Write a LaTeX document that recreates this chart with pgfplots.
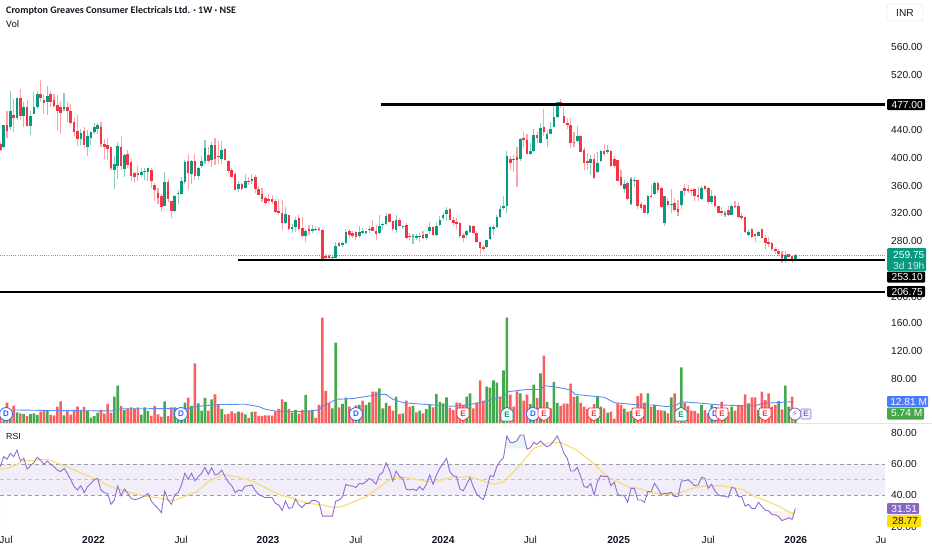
\documentclass[border=0pt]{standalone}
\usepackage{pgfplots}
\usepackage{pgfplotstable}
\usepackage{fontspec}
\pgfplotsset{compat=1.18}
\setmainfont{Liberation Sans}
\newfontfamily\titlefont{Carlito}
\newfontfamily\symfont{DejaVu Sans}
\definecolor{gbody}{HTML}{089981}
\definecolor{rbody}{HTML}{F23645}
\definecolor{gwick}{HTML}{8CCFC1}
\definecolor{rwick}{HTML}{F8A5AC}
\definecolor{gvol}{HTML}{45A84C}
\definecolor{rvol}{HTML}{F95F5F}
\definecolor{bma}{HTML}{5B8DEF}
\definecolor{blueD}{HTML}{2962FF}
\definecolor{rsi}{HTML}{8E6FCF}
\definecolor{rsiband}{HTML}{F1EDF9}
\definecolor{yma}{HTML}{FBDA6E}
\definecolor{tk}{HTML}{131722}
\definecolor{dashc}{HTML}{9A9BA3}
\pgfplotstableread{
o h l c v g r
420 423 410 411 26.3 0 58.3
415 448 414 447 21 1 64.7
447 468 428 439 46.3 0 63
444 497 440 468 26.3 1 66.8
462 485 438 458 42 0 64.7
458 488 455 487 32.5 1 68.9
487 499 455 461 31 0 61.9
461 481 444 474 30 1 63.6
474 484 444 446 27 0 56.8
446 467 433 460 30 1 58.9
464 495 463 473 31 1 61
473 496 471 492 28.7 1 64.2
492 512 481 486 33.4 0 62.5
483 491 464 479 34.8 0 59.8
481 504 462 489 35.8 1 61.9
492 496 473 480 28.7 0 59.8
483 492 474 475 28.2 0 58.3
476 491 439 468 40.6 0 56.1
474 481 435 465 48.2 0 55.1
470 493 467 474 28.2 1 57.2
474 480 452 467 35.8 0 54
467 478 448 451 29.1 0 49.8
452 457 431 438 35.8 0 45.5
439 462 417 427 40.6 0 43.4
427 441 418 436 35.8 1 46.1
439 444 414 419 40.1 0 41.7
415 440 403 432 34.8 1 45.5
428 439 418 438 24.8 1 47.6
437 450 435 445 27.2 1 49.8
442 451 435 447 32 1 50.8
444 452 415 420 35.8 0 43.4
420 427 398 415 30.6 0 41.7
418 428 397 413 44.4 0 41
415 415 382 385 32 0 34.2
382 402 355 391 54.8 1 37
389 423 370 417 70.5 1 45.9
415 432 383 389 41.5 0 39.7
384 406 373 404 35.8 1 44
406 412 385 390 37.7 0 41.2
394 398 367 374 39.6 0 38
378 380 364 373 37.7 0 37.2
378 388 366 375 39.6 0 37.6
375 385 372 379 29.1 1 38.5
379 386 368 381 39.6 1 39.5
379 386 366 385 34.4 1 41.2
382 385 356 366 27.2 0 36.3
361 364 338 353 41.5 0 33.8
349 356 334 342 29.6 0 31.6
345 348 324 329 26.3 0 28.9
331 379 330 365 48.2 1 42.7
365 370 337 341 27.2 0 37
338 338 313 324 39.6 0 34.2
324 346 322 345 39.6 1 40.2
348 353 334 350 26 1 41.7
348 373 346 367 24 1 46.6
365 397 363 394 46.3 1 54
395 406 354 378 53.4 0 50.2
377 397 363 395 41.5 1 54
396 406 368 374 102.4 0 49.3
374 387 368 386 45.3 1 51.9
388 403 386 396 34.8 1 54
396 426 391 414 53 1 57.8
404 415 393 395 34.8 0 53.4
397 423 387 418 51 1 57.6
418 428 390 399 58.2 0 53
403 425 391 402 43 0 53.6
399 425 391 411 37.2 1 56.1
413 414 396 397 29.6 0 51.9
396 397 378 381 30 0 48.3
382 385 372 373 33.9 0 46.1
377 380 353 354 31 0 41.7
355 366 351 362 33.4 1 43.4
363 364 353 355 32.5 0 42.7
356 377 356 367 29.6 1 45.9
367 372 361 365 24.4 0 46.1
366 377 363 369 33 1 46.6
372 375 349 355 33.4 0 42.9
355 359 346 347 27.2 0 40.6
348 357 337 341 27.2 0 39.5
342 345 334 335 28.2 0 38.5
340 348 335 338 28.2 0 38.7
340 346 334 337 27.7 0 38.5
338 340 320 322 33.9 0 34.8
323 341 318 320 37.2 0 33.8
321 339 296 306 51 0 30.2
306 329 305 319 47.2 1 36.3
317 318 296 298 37.2 0 31.6
298 304 292 300 32 1 32.1
300 315 293 311 35.8 1 37.6
313 318 295 297 30.6 0 33.8
299 314 285 287 35.8 0 32.1
287 298 279 294 57.2 1 34.8
298 303 289 294 34.8 0 34.8
294 303 291 298 35.8 1 36.8
297 302 294 296 24.4 0 36.6
297 300 294 296 43 0 35.5
296 297 252 253 167.6 0 26.7
258 262 253 256 63 0 26.7
258 262 254 256 46 0 26.7
255 258 252 257 38 1 26.7
256 279 255 273 132 1 36.3
277 279 272 273 39.6 0 37
275 279 272 277 44.4 1 39.1
277 297 276 293 53.4 1 47
295 298 284 289 40.6 0 46.1
291 294 284 287 36.8 0 45.9
293 294 281 286 42.5 0 44.9
287 302 285 293 43 1 47.6
292 299 290 295 49 0 47.2
291 295 290 295 43 1 48.7
296 302 291 298 46.7 1 50.8
300 310 294 295 62 0 49.3
295 303 282 290 62 0 47.2
291 318 290 302 66.7 1 53
303 308 296 304 38 1 54.7
305 320 303 316 46 1 60.8
319 320 307 308 41.5 0 56.1
309 309 294 297 34.8 0 49.1
296 318 292 310 55 1 55.5
311 313 301 301 30 0 51.9
300 303 297 302 31 1 50.8
303 306 283 285 49 0 43.8
287 291 281 286 40.6 0 43.4
286 290 276 288 41.5 1 44
285 290 281 288 32.5 0 42.9
286 291 279 288 34.8 1 45.5
289 294 283 284 31 0 43.4
284 292 282 290 36.8 1 47
294 307 290 300 43 1 53
300 302 287 289 39.6 0 47
289 308 287 302 58.6 1 53
303 316 301 311 47.2 1 57.2
313 322 311 317 45.3 1 60.4
319 329 309 325 53.9 1 63.6
326 328 310 311 39 0 55.1
311 315 301 306 35.8 0 52.5
307 313 298 305 46.3 0 51.9
306 307 285 287 46.3 0 44
289 291 278 285 43 0 42.9
289 296 284 295 55 1 47
293 303 291 302 59.6 1 51.2
302 303 290 291 38 0 45.5
292 294 277 278 46.3 0 40.8
278 279 262 270 78.2 0 38.7
272 274 265 268 49 0 37.2
272 282 270 281 69 1 44
283 302 281 300 67.7 1 52.5
298 303 289 300 78.2 1 51.9
300 318 299 314 74.8 1 58.3
314 332 313 326 55 0 61.9
327 345 325 330 92.4 1 64
331 410 321 403 167.6 1 77.9
399 403 383 393 57.7 0 73.8
398 404 380 397 40.6 0 73.8
401 416 358 397 62.5 0 74.9
398 428 396 427 59.6 1 78.5
428 437 416 426 49 0 78.5
426 435 405 406 57.7 0 69.4
406 421 404 410 44 1 70.4
410 441 409 433 72 1 73.8
433 438 422 428 53 0 72.5
422 451 421 443 88 1 74.7
444 471 431 438 113.4 0 72.5
427 440 415 435 47 1 71
435 452 434 441 38 0 72.1
445 479 444 459 75.8 1 74.9
459 481 457 480 46 1 77.9
480 485 472 476 41.5 0 73.2
460 473 450 451 45 0 66.8
451 457 441 447 45 0 63.6
448 457 414 422 73.4 0 55.5
423 438 416 422 55 0 55.5
424 446 423 431 55.8 1 57.8
432 433 408 409 46 0 51.9
412 415 383 393 40.6 0 45.5
396 407 383 393 36.8 0 45
393 404 375 398 36.8 0 47.6
398 406 370 371 44 0 40.2
379 409 378 393 55.8 1 48.7
396 411 394 410 40.6 1 52.5
410 420 402 406 38 0 51.9
408 418 406 411 32 1 52.3
410 412 387 388 33.4 0 46.1
398 403 386 388 23.4 0 48.3
397 397 366 367 45.3 0 40.8
372 382 359 361 43 0 39.7
355 368 349 363 37.7 1 39.7
364 366 339 341 33.4 0 35.5
333 373 332 370 34.3 1 44.4
366 373 358 368 38 1 44.4
368 368 326 331 55.7 0 37
333 337 325 327 59.5 0 37
332 333 320 321 46.2 0 35.5
321 346 317 345 59.5 1 42.3
345 361 342 343 40.5 0 42.3
348 366 346 364 42.9 1 47.6
364 367 350 354 35.7 0 44.4
357 358 327 329 35.2 0 40.6
306 345 302 345 34.3 1 41.2
338 342 331 332 31 0 41.2
332 355 320 334 53.8 1 41.9
335 342 322 325 59.5 0 39.1
326 339 316 322 38 0 39.1
332 354 326 352 96.6 1 49.1
356 363 345 352 46.2 0 49.3
355 361 349 352 41.4 0 49.8
354 356 346 352 34.8 0 48.3
355 357 338 345 34.3 0 46.1
347 358 338 344 31 0 46.6
341 359 339 357 42.9 1 51.5
360 361 354 355 35.7 0 50.8
357 358 334 336 31 0 44.4
336 354 334 345 42.9 1 47
345 346 329 330 35.7 0 42.9
330 331 320 321 38 0 40.2
324 329 316 320 47.6 0 39.5
318 323 315 320 38 1 39.5
325 331 316 317 33.3 0 38.7
318 332 317 331 40.5 1 45
331 338 327 329 34.8 0 44.4
330 337 313 314 42.9 0 39.1
316 320 311 313 41.4 0 39.1
314 315 292 293 58.1 0 33.1
289 298 287 293 45.2 1 34.2
298 299 285 286 53.8 0 31.6
290 291 279 287 53.8 0 31.6
288 294 287 293 35.7 1 35.5
297 298 283 284 61.9 0 32.7
285 289 269 277 50 0 30.6
278 286 272 276 59.5 0 30
277 278 266 268 40.5 0 27.8
269 272 262 265 42.9 0 27.4
266 268 258 261 48.6 1 26.3
261 265 249 255 36.7 0 23.8
252 265 249 260 70.5 1 24.6
261 262 256 257 40.5 1 25.7
258 260 249 253 54.8 0 24.6
253 261 252 260 31 1 31.6
}\datatable
\newcommand{\wick}[2]{\addplot[draw=none,mark=none,forget plot,error bars/.cd,y dir=plus,y explicit,error mark=none,error bar style={draw=#2,line width=1.1pt}] table[x expr=\coordindex,y expr={#1 ? \thisrow{l} : nan},y error plus expr={\thisrow{h}-\thisrow{l}}] {\datatable};}
\newcommand{\body}[2]{\addplot[draw=none,mark=none,forget plot,error bars/.cd,y dir=plus,y explicit,error mark=none,error bar style={draw=#2,line width=2.6pt}] table[x expr=\coordindex,y expr={#1 ? min(\thisrow{o},\thisrow{c}) : nan},y error plus expr={abs(\thisrow{c}-\thisrow{o})}] {\datatable};}
\newcommand{\evD}[1]{\node[circle,draw=blueD,fill=white,line width=0.8pt,minimum size=13pt,inner sep=0pt,text=blueD,font=\fontsize{8}{8}\selectfont\bfseries] at (#1pt,-414pt) {D};}
\newcommand{\evE}[2]{\begin{scope}[shift={(#1pt,-414pt)}]\draw[draw=#2,fill=white,line width=0.8pt,rounded corners=1pt] (-6pt,6pt)--(6pt,6pt)--(6pt,-3pt)--(0pt,-7pt)--(-6pt,-3pt)--cycle;\node[text=#2,inner sep=0pt,font=\fontsize{8}{8}\selectfont\bfseries] at (0pt,0.5pt) {E};\end{scope}}
\newcommand{\evU}[2]{\begin{scope}[shift={(#1pt,-414pt)}]\draw[draw=#2,fill=white,line width=0.8pt,rounded corners=1pt] (-6pt,-7pt)--(6pt,-7pt)--(6pt,3pt)--(0pt,7pt)--(-6pt,3pt)--cycle;\node[text=#2,inner sep=0pt,font=\fontsize{8}{8}\selectfont\bfseries] at (0pt,-0.5pt) {E};\end{scope}}
\newcommand{\pricebox}[6]{\node[anchor=west,fill=#5,text=#6,minimum width=#2,minimum height=#3,inner sep=0pt,rounded corners=1pt,font=\fontsize{10.2}{12}\selectfont] at (887pt,-#1pt) {\hspace{2pt}#4};}
\pgfplotsset{base/.style={scale only axis,width=885pt,xmin=-0.09,xmax=263.7,axis line style={draw=none},tick style={draw=none},major tick length=0pt,yticklabel pos=right,xtick=\empty,
 tick label style={font=\fontsize{10.2}{12}\selectfont,text=tk},yticklabel style={anchor=west,inner sep=0pt,xshift=6pt},clip=true}}
\begin{document}
\begin{tikzpicture}
\useasboundingbox (0pt,0pt) rectangle (932pt,-550pt);
% price pane
\begin{axis}[base,anchor=north west,at={(0pt,0pt)},height=310pt,ymin=180.5,ymax=627.8,
 ytick={200,280,320,360,400,440,520,560},yticklabels={200.00,280.00,320.00,360.00,400.00,440.00,520.00,560.00}]
\addplot[gbody!70,dash pattern=on 1pt off 1.2pt,line width=0.9pt,forget plot] coordinates {(-0.09,259.75)(263.7,259.75)};
\wick{\thisrow{c}>=\thisrow{o}}{gwick}
\wick{\thisrow{c}<\thisrow{o}}{rwick}
\body{\thisrow{c}>=\thisrow{o}}{gbody}
\body{\thisrow{c}<\thisrow{o}}{rbody}
\addplot[black,line width=2.1pt,forget plot] coordinates {(113.5,477)(263.7,477)};
\addplot[black,line width=2pt,forget plot] coordinates {(70.9,253.1)(263.7,253.1)};
\addplot[black,line width=2pt,forget plot] coordinates {(-0.09,206.75)(263.7,206.75)};
\end{axis}
% volume pane
\begin{axis}[base,anchor=north west,at={(0pt,-310pt)},height=113pt,ymin=17.14,ymax=178.6,
 ytick={80,120,160},yticklabels={80.00,120.00,160.00}]
\addplot[ybar,bar width=2.6pt,bar shift=0pt,fill=gvol,draw=none,forget plot] table[x expr=\coordindex,y expr={\thisrow{g}>0 ? \thisrow{v} : nan}] {\datatable};
\addplot[ybar,bar width=2.6pt,bar shift=0pt,fill=rvol,draw=none,forget plot] table[x expr=\coordindex,y expr={\thisrow{g}<1 ? \thisrow{v} : nan}] {\datatable};
\addplot[bma,line width=0.9pt,forget plot] coordinates {(4,35.8)(15,35)(33,34.4)(36,37.5)(56,37.7)(58,40.6)(65,43.5)(73,44)(77,40.6)(79,36.8)(83,33.4)(90,33.4)(95,35.8)(96,41.5)(98,45.3)(100,51)(105,52)(113,58)(115,58)(117,51)(120,46.3)(122,45.3)(135,41)(139,43)(142,45.3)(150,54.8)(151.5,62)(157,65)(161,65)(162.3,70.5)(165,69)(170,64.4)(171.3,58)(178,54.8)(180,54)(183,46.3)(185,45.2)(190.7,42.9)(194.6,42.9)(198.6,40.5)(201.6,42.9)(203,47.6)(209.5,45.2)(214.5,42.9)(224.5,41.4)(227.4,45.2)(236.4,47.6)};
\end{axis}
% RSI pane
\begin{axis}[base,anchor=north west,at={(0pt,-425pt)},height=105pt,ymin=17.8,ymax=84.9,
 ytick={20,40,60,80},yticklabels={20.00,40.00,60.00,80.00},
 xtick={1.7,27.8,53.9,79.8,106,132,158,184.3,211,237.1,262.5},
 xticklabels={Jul,\textbf{2022},Jul,\textbf{2023},Jul,\textbf{2024},Jul,\textbf{2025},Jul,\textbf{2026},Ju},
 xticklabel style={inner sep=0pt,yshift=-6pt}]
\addplot[fill=rsiband,draw=none,forget plot] coordinates {(-0.09,40)(263.7,40)(263.7,60)(-0.09,60)} \closedcycle;
\addplot[fill=gbody!10,draw=none,forget plot] coordinates {(150.8,70)(151,77.9)(152,73.8)(153,73.8)(154,74.9)(155,78.5)(156,78.5)(157,70)};
\addplot[fill=rbody!8,draw=none,forget plot] coordinates {(95.6,30)(96,26.7)(99,26.7)(99.3,30)};
\addplot[fill=rbody!8,draw=none,forget plot] coordinates {(229,30)(230,27.8)(231,27.4)(232,26.3)(233,23.8)(234,24.6)(235,25.7)(236,24.6)(236.8,30)};
\addplot[dashc,dash pattern=on 4pt off 3pt,line width=0.9pt,forget plot] coordinates {(-0.09,60)(263.7,60)};
\addplot[dashc!60,dash pattern=on 4pt off 3pt,line width=0.8pt,forget plot] coordinates {(-0.09,50)(263.7,50)};
\addplot[dashc,dash pattern=on 4pt off 3pt,line width=0.9pt,forget plot] coordinates {(-0.09,40)(263.7,40)};
\addplot[yma,line width=1.1pt,forget plot] coordinates {(0,56.6)(2.5,57.6)(4.5,59.3)(7,61.9)(10,62.3)(14,63)(16.4,61)(20,57.9)(25.3,53)(28.8,50.2)(32.8,45.5)(36.7,42.9)(42.7,39.5)(46.7,38.5)(51.6,36.5)(54,38.5)(58.6,42.3)(62,48.7)(66.5,53.4)(71.5,51.2)(75.5,48.7)(79.4,44.4)(83.4,40.2)(87.4,38)(91.4,35)(95.8,33.8)(99.5,32.1)(102.3,33.1)(105.3,35.9)(109.2,39.1)(112.7,44.9)(116.2,50.2)(120.2,51.5)(126.1,49.3)(129,48.3)(134,51.2)(140,51.9)(144,49.1)(147.5,47)(150,48.7)(154,57.2)(159,70)(163,73.2)(167,73.8)(171.8,68.9)(176.8,60.4)(180.8,51.9)(187.7,45)(189.2,45)(192.7,42.7)(196.6,40.8)(201.6,40.8)(205.6,44)(209.5,45.9)(214.5,46.1)(218.5,45)(221.5,43.4)(224.5,39.5)(228.4,36.3)(232.4,32.7)(235.4,28.9)(237,28.4)};
\addplot[rsi,line width=0.9pt,forget plot] table[x expr=\coordindex,y=r] {\datatable};
\end{axis}
% pane divider
\draw[black!10,line width=0.6pt] (0pt,-423.6pt) -- (932pt,-423.6pt);
% event badges
\evD{6}\evD{181}\evD{356}\evD{533}\evD{715}
\evE{463}{rbody}\evU{507}{gbody}\evE{544}{rbody}\evE{594}{rbody}\evE{638}{rbody}\evU{681}{gbody}\evE{722}{rbody}\evE{765}{rbody}
\node[circle,draw=rsi!90!black,fill=white,line width=0.8pt,minimum size=12pt,inner sep=0pt,text=rsi!90!black,font=\symfont\fontsize{8}{8}\selectfont] at (795pt,-414pt) {\char"26A1};
\node[draw=rsi,fill=rsiband,line width=0.6pt,rounded corners=1pt,minimum size=10pt,inner sep=0pt,text=rsi,font=\fontsize{8}{8}\selectfont\bfseries] at (806pt,-414pt) {E};
% title block
\node[anchor=west,inner sep=0pt,text=tk,font=\titlefont\fontsize{10.05}{12}\selectfont\bfseries] at (6pt,-11pt) {Crompton Greaves Consumer Electricals Ltd. · 1W · NSE};
\node[anchor=west,inner sep=0pt,text=tk,font=\titlefont\fontsize{10.2}{12}\selectfont] at (6pt,-24pt) {Vol};
\node[anchor=west,inner sep=0pt,text=tk,font=\fontsize{8.8}{11}\selectfont] at (6pt,-436pt) {RSI};
\node[draw=black!15,rounded corners=3pt,minimum width=36pt,minimum height=17pt,inner sep=0pt,text=tk,font=\fontsize{10.2}{12}\selectfont] at (905pt,-12.5pt) {INR};
% axis value boxes
\pricebox{104.5}{38pt}{11pt}{477.00}{black}{white}
\pricebox{277}{38pt}{11pt}{253.10}{black}{white}
\pricebox{291.5}{38pt}{11pt}{206.75}{black}{white}
\node[anchor=north west,fill=gbody,minimum width=39pt,minimum height=23pt,inner sep=0pt,rounded corners=1pt] at (887pt,-248pt) {};
\node[anchor=west,inner sep=0pt,text=white,font=\fontsize{10.2}{12}\selectfont] at (893pt,-255pt) {259.75};
\node[anchor=west,inner sep=0pt,text=white!80!gbody,font=\fontsize{10.2}{12}\selectfont] at (893pt,-265.5pt) {3d 19h};
\pricebox{401.5}{41pt}{11pt}{12.81 M}{blueD!85!white}{white}
\pricebox{413.5}{37pt}{12pt}{5.74 M}{gvol}{white}
\pricebox{508.5}{32pt}{11pt}{31.51}{rsi!95!black}{white}
\pricebox{521}{34pt}{12pt}{28.77}{yellow!80!orange}{tk}
\end{tikzpicture}
\end{document}
